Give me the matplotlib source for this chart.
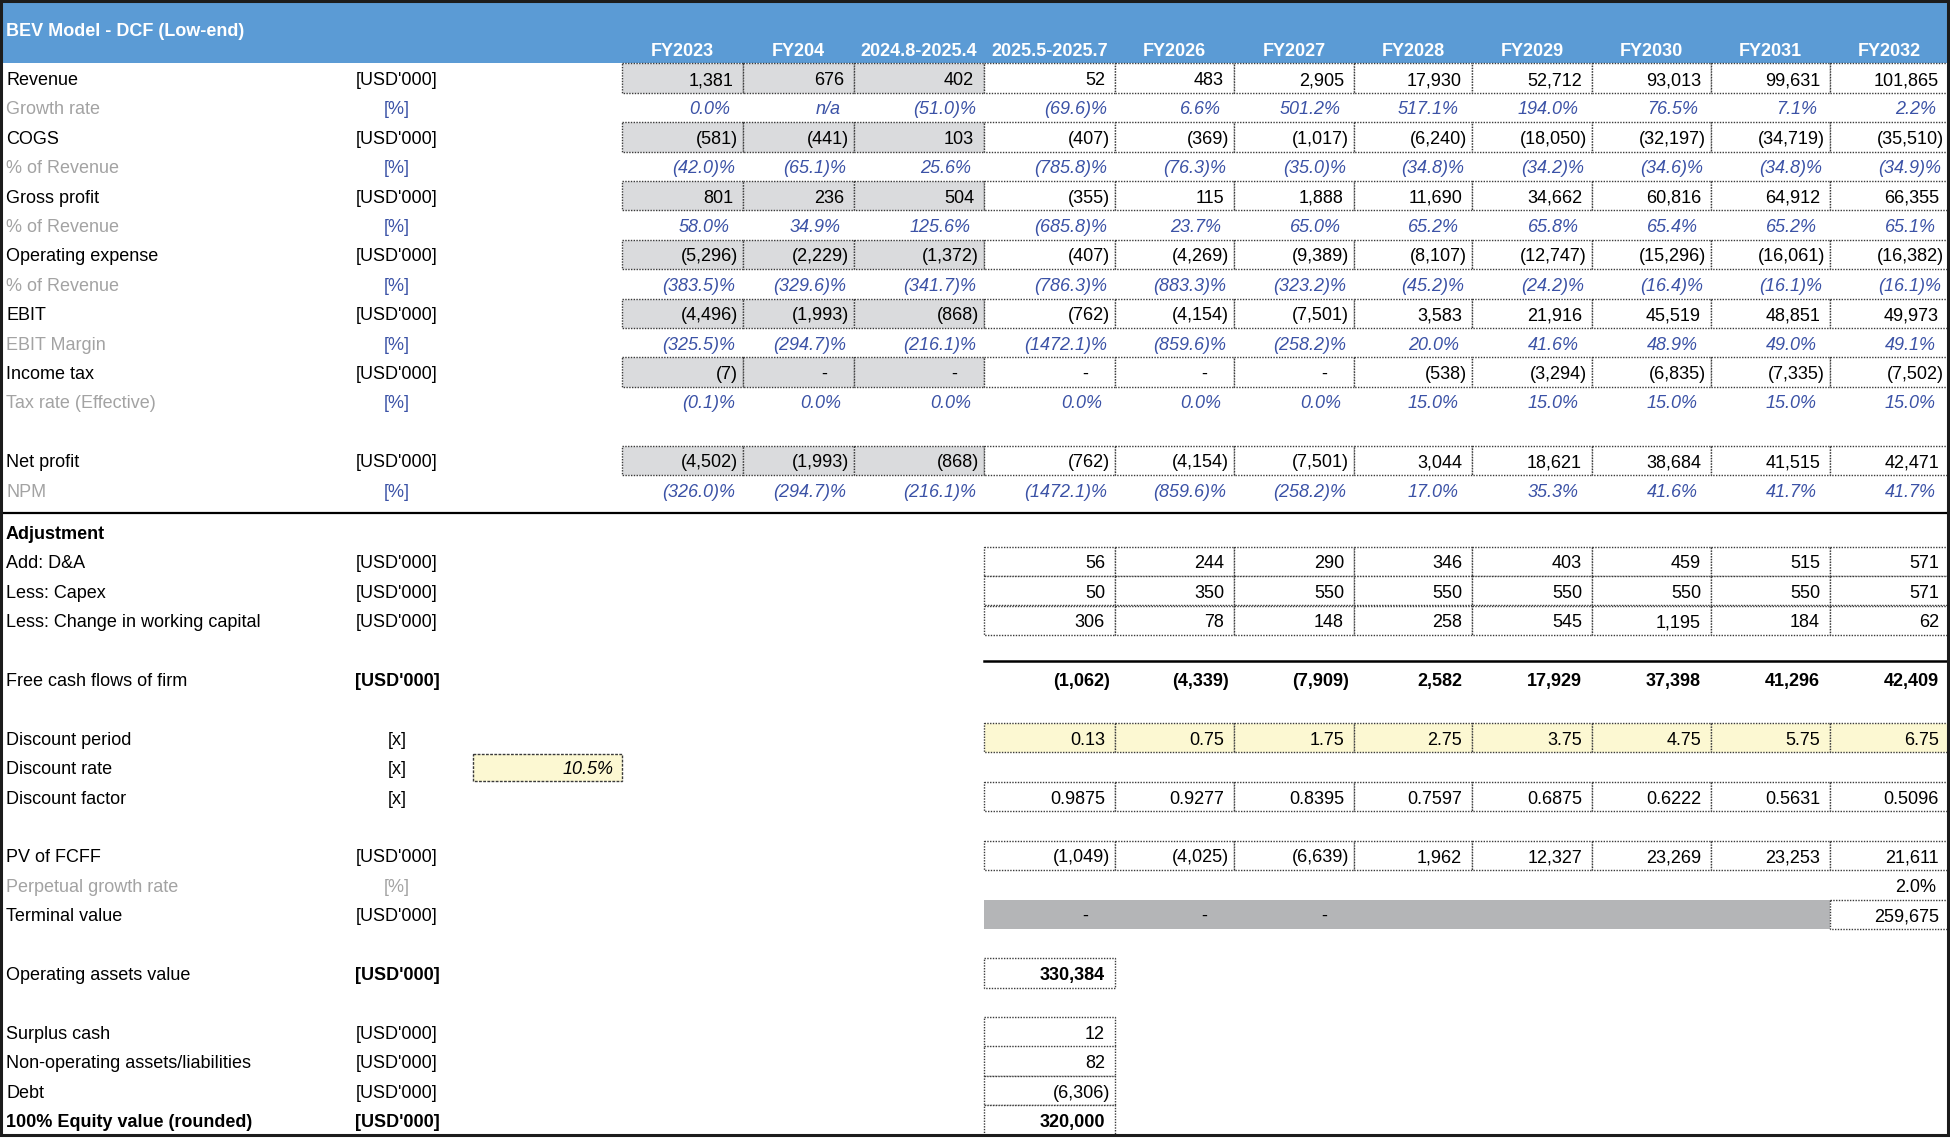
import matplotlib.pyplot as plt
from matplotlib.patches import Rectangle

# --------------------------
# Data (USD'000 unless noted)
# --------------------------
title = "BEV Model - DCF (Low-end)"
periods = ["FY2023", "FY204", "2024.8-2025.4", "2025.5-2025.7", "FY2026", "FY2027",
           "FY2028", "FY2029", "FY2030", "FY2031", "FY2032"]
n_hist = 3  # first three periods are actuals (grey)

revenue = [1381, 676, 402, 52, 483, 2905, 17930, 52712, 93013, 99631, 101865]
growth_rate = [0.0, None, -51.0, -69.6, 6.6, 501.2, 517.1, 194.0, 76.5, 7.1, 2.2]
cogs = [-581, -441, 103, -407, -369, -1017, -6240, -18050, -32197, -34719, -35510]
cogs_pct = [-42.0, -65.1, 25.6, -785.8, -76.3, -35.0, -34.8, -34.2, -34.6, -34.8, -34.9]
gross_profit = [801, 236, 504, -355, 115, 1888, 11690, 34662, 60816, 64912, 66355]
gross_pct = [58.0, 34.9, 125.6, -685.8, 23.7, 65.0, 65.2, 65.8, 65.4, 65.2, 65.1]
opex = [-5296, -2229, -1372, -407, -4269, -9389, -8107, -12747, -15296, -16061, -16382]
opex_pct = [-383.5, -329.6, -341.7, -786.3, -883.3, -323.2, -45.2, -24.2, -16.4, -16.1, -16.1]
ebit = [-4496, -1993, -868, -762, -4154, -7501, 3583, 21916, 45519, 48851, 49973]
ebit_margin = [-325.5, -294.7, -216.1, -1472.1, -859.6, -258.2, 20.0, 41.6, 48.9, 49.0, 49.1]
income_tax = [-7, 0, 0, 0, 0, 0, -538, -3294, -6835, -7335, -7502]
tax_rate = [-0.1, 0.0, 0.0, 0.0, 0.0, 0.0, 15.0, 15.0, 15.0, 15.0, 15.0]
net_profit = [-4502, -1993, -868, -762, -4154, -7501, 3044, 18621, 38684, 41515, 42471]
npm = [-326.0, -294.7, -216.1, -1472.1, -859.6, -258.2, 17.0, 35.3, 41.6, 41.7, 41.7]

# forecast columns only (2025.5-2025.7 .. FY2032)
d_and_a = [56, 244, 290, 346, 403, 459, 515, 571]
capex = [50, 350, 550, 550, 550, 550, 550, 571]
change_wc = [306, 78, 148, 258, 545, 1195, 184, 62]
fcff = [-1062, -4339, -7909, 2582, 17929, 37398, 41296, 42409]
discount_period = [0.13, 0.75, 1.75, 2.75, 3.75, 4.75, 5.75, 6.75]
discount_rate = 10.5
discount_factor = [0.9875, 0.9277, 0.8395, 0.7597, 0.6875, 0.6222, 0.5631, 0.5096]
pv_fcff = [-1049, -4025, -6639, 1962, 12327, 23269, 23253, 21611]
perpetual_growth = 2.0
terminal_value = [0, 0, 0, None, None, None, None, 259675]
operating_assets = 330384
surplus_cash = 12
non_operating = 82
debt = -6306
equity_value = 320000

# --------------------------
# Styling / layout
# --------------------------
FONT = "Liberation Sans"
FS = 13
BLUE_HEAD = "#5b9bd5"
BLUE_TXT = "#3b52a6"
GREY_TXT = "#a3a3a3"
GREY_FILL = "#dadbdd"
TV_FILL = "#b4b5b7"
YELLOW = "#fcf8d2"
BORDER = "#3a3a3a"

W, H = 1950, 1139
edges = [622, 743, 854, 984, 1115, 1234, 1354, 1472, 1592, 1711, 1830, 1949]
pitch = 29.4
top_y0 = 78      # centre of first data row
bot_y0 = 532     # centre of "Adjustment" row
unit_x = 397
DY = 2.5         # text sits slightly below the cell centre


def fmt_num(v):
    if v is None:
        return ""
    if v == 0:
        return "-"
    if v < 0:
        return f"({abs(v):,.0f})"
    return f"{v:,.0f}"


def fmt_pct(v):
    if v is None:
        return "n/a"
    if v < 0:
        return f"({abs(v):.1f})%"
    return f"{v:.1f}%"


fig = plt.figure(figsize=(W / 100, H / 100), dpi=100)
ax = fig.add_axes([0, 0, 1, 1])
ax.set_xlim(0, W)
ax.set_ylim(H, 0)
ax.axis("off")


def txt(x, y, s, ha="left", color="black", bold=False, italic=False, size=FS, dy=DY):
    ax.text(x, y + dy, s, ha=ha, va="center", color=color, fontsize=size, family=FONT,
            fontweight="bold" if bold else "normal",
            fontstyle="italic" if italic else "normal")


def cell_box(c, y, fill="white", border=True):
    x0, x1 = edges[c], edges[c + 1]
    ax.add_patch(Rectangle((x0, y - pitch / 2), x1 - x0, pitch, facecolor=fill,
                           edgecolor=BORDER if border else "none", lw=1.0,
                           linestyle=(0, (1, 1)), zorder=1))


def cell_value(c, y, s, positive, bold=False, italic=False, color="black", pct=False):
    right = edges[c + 1]
    if s == "-":
        txt(right - 30, y, s, ha="center", color=color, bold=bold)
        return
    pad = 5 if not pct else 8
    if positive:
        pad += 5
    txt(right - pad, y, s, ha="right", color=color, bold=bold, italic=italic)


# header band
ax.add_patch(Rectangle((0, 0), W, top_y0 - pitch / 2, facecolor=BLUE_HEAD, edgecolor="none", zorder=0))
txt(6, 31, title, color="white", bold=True, size=13, dy=0)
for c, p in enumerate(periods):
    txt((edges[c] + edges[c + 1]) / 2, 51, p, ha="center", color="white", bold=True, size=13, dy=0)

# --------------------------
# Income statement section
# --------------------------
top_rows = [
    ("Revenue", "[USD'000]", "num", revenue),
    ("Growth rate", "[%]", "pct", growth_rate),
    ("COGS", "[USD'000]", "num", cogs),
    ("% of Revenue", "[%]", "pct", cogs_pct),
    ("Gross profit", "[USD'000]", "num", gross_profit),
    ("% of Revenue", "[%]", "pct", gross_pct),
    ("Operating expense", "[USD'000]", "num", opex),
    ("% of Revenue", "[%]", "pct", opex_pct),
    ("EBIT", "[USD'000]", "num", ebit),
    ("EBIT Margin", "[%]", "pct", ebit_margin),
    ("Income tax", "[USD'000]", "num", income_tax),
    ("Tax rate (Effective)", "[%]", "pct", tax_rate),
    None,
    ("Net profit", "[USD'000]", "num", net_profit),
    ("NPM", "[%]", "pct", npm),
]

for i, row in enumerate(top_rows):
    if row is None:
        continue
    label, unit, kind, vals = row
    y = top_y0 + pitch * i
    if kind == "num":
        txt(6, y, label)
        txt(unit_x, y, unit, ha="center")
        for c, v in enumerate(vals):
            cell_box(c, y, fill=GREY_FILL if c < n_hist else "white")
            cell_value(c, y, fmt_num(v), v > 0)
    else:
        txt(6, y, label, color=GREY_TXT)
        txt(unit_x, y, unit, ha="center", color=BLUE_TXT)
        for c, v in enumerate(vals):
            cell_value(c, y, fmt_pct(v), v is None or v >= 0, italic=True,
                       color=BLUE_TXT, pct=True)

# separator
ax.plot([0, W], [513, 513], color="black", lw=1.6, zorder=3)

# --------------------------
# DCF section
# --------------------------
def by(j):
    return bot_y0 + pitch * j


f0 = n_hist  # first forecast column index

txt(6, by(0), "Adjustment", bold=True)

for j, (label, vals) in zip([1, 2, 3], [("Add: D&A", d_and_a), ("Less: Capex", capex),
                                        ("Less: Change in working capital", change_wc)]):
    txt(6, by(j), label)
    txt(unit_x, by(j), "[USD'000]", ha="center")
    for k, v in enumerate(vals):
        cell_box(f0 + k, by(j))
        cell_value(f0 + k, by(j), fmt_num(v), v > 0)

# free cash flow
txt(6, by(5), "Free cash flows of firm")
txt(unit_x, by(5), "[USD'000]", ha="center", bold=True)
ax.plot([edges[f0], edges[-1]], [by(5) - pitch / 2 - 3] * 2, color="black", lw=1.8, zorder=3)
for k, v in enumerate(fcff):
    cell_value(f0 + k, by(5), fmt_num(v), v > 0, bold=True)

# discounting
txt(6, by(7), "Discount period")
txt(unit_x, by(7), "[x]", ha="center")
for k, v in enumerate(discount_period):
    cell_box(f0 + k, by(7), fill=YELLOW)
    cell_value(f0 + k, by(7), f"{v:.2f}", True)

txt(6, by(8), "Discount rate")
txt(unit_x, by(8), "[x]", ha="center")
ax.add_patch(Rectangle((473, by(8) - pitch / 2 + 1), edges[0] - 473, pitch - 2, facecolor=YELLOW,
                       edgecolor=BORDER, lw=1.0, linestyle=(0, (2, 1)), zorder=1))
txt(edges[0] - 8, by(8), f"{discount_rate:.1f}%", ha="right", italic=True)

txt(6, by(9), "Discount factor")
txt(unit_x, by(9), "[x]", ha="center")
for k, v in enumerate(discount_factor):
    cell_box(f0 + k, by(9))
    cell_value(f0 + k, by(9), f"{v:.4f}", True)

# present value
txt(6, by(11), "PV of FCFF")
txt(unit_x, by(11), "[USD'000]", ha="center")
for k, v in enumerate(pv_fcff):
    cell_box(f0 + k, by(11))
    cell_value(f0 + k, by(11), fmt_num(v), v > 0)

txt(6, by(12), "Perpetual growth rate", color=GREY_TXT)
txt(unit_x, by(12), "[%]", ha="center", color=GREY_TXT)
cell_value(len(periods) - 1, by(12), f"{perpetual_growth:.1f}%", True, pct=True)

txt(6, by(13), "Terminal value")
txt(unit_x, by(13), "[USD'000]", ha="center")
ax.add_patch(Rectangle((edges[f0], by(13) - pitch / 2), edges[-2] - edges[f0], pitch,
                       facecolor=TV_FILL, edgecolor="none", zorder=1))
for k, v in enumerate(terminal_value):
    c = f0 + k
    if c == len(periods) - 1:
        cell_box(c, by(13))
    if v is not None:
        cell_value(c, by(13), fmt_num(v), v > 0)

# valuation bridge
txt(6, by(15), "Operating assets value")
txt(unit_x, by(15), "[USD'000]", ha="center", bold=True)
cell_box(f0, by(15))
cell_value(f0, by(15), fmt_num(operating_assets), True, bold=True)

bridge = [
    (17, "Surplus cash", surplus_cash, False),
    (18, "Non-operating assets/liabilities", non_operating, False),
    (19, "Debt", debt, False),
    (20, "100% Equity value (rounded)", equity_value, True),
]
for j, label, v, bold in bridge:
    txt(6, by(j), label, bold=bold)
    txt(unit_x, by(j), "[USD'000]", ha="center", bold=bold)
    cell_box(f0, by(j))
    cell_value(f0, by(j), fmt_num(v), v > 0, bold=bold)

# outer frame
ax.add_patch(Rectangle((1, 1), W - 3, 1134, facecolor="none", edgecolor="#1c1c1c", lw=2.2, zorder=4))

fig.savefig("out.png", dpi=100)
